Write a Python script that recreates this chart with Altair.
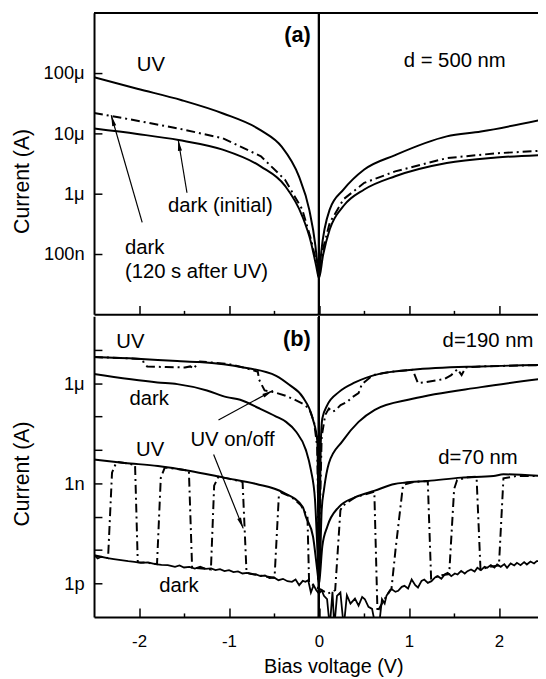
import altair as alt
import pandas as pd

FONT = "Liberation Sans"
X_DOMAIN = [-2.5, 2.434]
X_TICKS = [-2, -1.5, -1, -0.5, 0, 0.5, 1, 1.5, 2]
YA_TICKS = [1e-7, 1e-6, 1e-5, 1e-4]
YB_TICKS = [1e-12, 1e-11, 1e-10, 1e-9, 1e-8, 1e-7, 1e-6, 1e-5]

# ---------------- panel (a): d = 500 nm  (bias V, log10 of current in A)
a_uv_v = [-2.5, -2.02, -1.525, -1.066, -0.645, -0.415, -0.224, -0.109, -0.04, -0.013, 0.0,
          0.025, 0.12, 0.274, 0.503, 0.847, 1.42, 1.80, 2.45]
a_uv_e = [-4.07, -4.26, -4.45, -4.67, -4.95, -5.22, -5.71, -6.26, -6.86, -7.24, -7.38,
          -6.97, -6.26, -5.93, -5.60, -5.36, -5.05, -4.97, -4.78]
a_dark_v = [-2.5, -2.02, -1.56, -1.07, -0.645, -0.377, -0.186, -0.09, -0.032, 0.0,
            0.045, 0.12, 0.274, 0.503, 0.847, 1.42, 1.97, 2.45]
a_dark_e = [-4.92, -5.01, -5.11, -5.27, -5.55, -5.87, -6.37, -6.80, -7.19, -7.40,
            -7.02, -6.59, -6.20, -5.93, -5.71, -5.49, -5.40, -5.36]
a_d120_v = [-2.5, -2.02, -1.56, -1.07, -0.645, -0.377, -0.186, -0.09, -0.03, 0.0,
            0.045, 0.12, 0.274, 0.503, 0.847, 1.42, 1.97, 2.45]
a_d120_e = [-4.66, -4.79, -4.92, -5.08, -5.38, -5.77, -6.26, -6.75, -7.13, -7.38,
            -6.91, -6.48, -6.09, -5.82, -5.63, -5.41, -5.33, -5.29]

a_text = ["UV", "d = 500 nm", "dark (initial)", "dark", "(120 s after UV)"]
a_text_v = [-2.024, 0.942, -1.678, -2.157, -2.157]
a_text_e = [-3.962, -3.907, -6.30, -6.995, -7.405]
a_tag, a_tag_v, a_tag_e = ["(a)"], [-0.091], [-3.49]

a_arr_v0, a_arr_e0 = [-1.965, -1.467], [-6.475, -5.984]
a_arr_v1, a_arr_e1 = [-2.309, -1.564], [-4.70, -5.110]
a_arr_ang = [344, 351]

# ---------------- panel (b): d = 190 nm and d = 70 nm
b_uv190_v = [-2.5, -2.02, -1.575, -1.333, -0.84, -0.476, -0.33, -0.18, -0.07, -0.018, -0.004, 0.0,
             0.004, 0.02, 0.037, 0.092, 0.22, 0.40, 0.66, 1.04, 1.80, 2.45]
b_uv190_e = [-5.22, -5.27, -5.34, -5.37, -5.53, -5.78, -6.05, -6.42, -7.06, -7.75, -10.8, -11.9,
             -10.8, -7.8, -7.06, -6.66, -6.27, -5.98, -5.73, -5.60, -5.50, -5.46]
b_dark190_v = [-2.5, -1.795, -1.575, -1.245, -1.025, -0.876, -0.66, -0.476, -0.366, -0.256, -0.146,
               -0.09, -0.044, -0.012, 0.0, 0.012, 0.03, 0.055, 0.11, 0.257, 0.44, 0.62, 1.04, 1.80, 2.45]
b_dark190_e = [-5.73, -5.98, -6.03, -6.22, -6.42, -6.50, -6.76, -7.0, -7.16, -7.45, -8.0,
               -8.6, -9.5, -11.3, -11.9, -11.3, -9.8, -9.2, -8.4, -7.75, -7.16, -6.8, -6.47, -6.12, -5.88]
b_uv70_v = [-2.5, -2.16, -1.79, -1.43, -1.06, -0.696, -0.40, -0.18, -0.146, -0.066, -0.029, -0.006, 0.0,
            0.006, 0.037, 0.092, 0.22, 0.40, 0.62, 0.84, 0.95, 1.21, 1.58, 1.94, 2.05, 2.45]
b_uv70_e = [-8.29, -8.39, -8.48, -8.63, -8.83, -9.02, -9.27, -9.71, -10.0, -10.6, -11.38, -11.9, -12.0,
            -11.9, -10.89, -10.30, -9.71, -9.42, -9.22, -9.02, -8.98, -8.93, -8.83, -8.78, -8.73, -8.78]
b_dark70_v = [-2.5, -2.46, -2.42, -2.35, -2.28, -2.2, -2.12, -2.05, -1.98, -1.9, -1.82, -1.75, -1.68,
              -1.6, -1.55, -1.5, -1.44, -1.38, -1.32, -1.26, -1.2, -1.15, -1.1, -1.05, -1.0, -0.95,
              -0.9, -0.85, -0.8, -0.75, -0.7, -0.65, -0.6, -0.55, -0.5, -0.45, -0.4, -0.35, -0.3,
              -0.26, -0.22, -0.18, -0.15, -0.12, -0.09, -0.06, -0.03, 0.0, 0.03, 0.055, 0.09, 0.12,
              0.15, 0.17, 0.2, 0.238, 0.275, 0.31, 0.35, 0.4, 0.44, 0.48, 0.51, 0.55, 0.59, 0.63,
              0.67, 0.7, 0.73, 0.75, 0.79, 0.81, 0.85, 0.88, 0.92, 0.95, 0.99, 1.03, 1.07, 1.1,
              1.14, 1.17, 1.21, 1.25, 1.29, 1.32, 1.36, 1.4, 1.43, 1.47, 1.51, 1.54, 1.58, 1.62,
              1.65, 1.69, 1.73, 1.76, 1.8, 1.84, 1.87, 1.91, 1.95, 1.98, 2.02, 2.06, 2.09, 2.13,
              2.17, 2.2, 2.24, 2.28, 2.31, 2.35, 2.39, 2.42, 2.45]
b_dark70_e = [-11.14, -11.25, -11.2, -11.24, -11.27, -11.3, -11.33, -11.35, -11.38, -11.37, -11.42,
              -11.44, -11.45, -11.5, -11.46, -11.52, -11.5, -11.55, -11.5, -11.56, -11.55, -11.6,
              -11.57, -11.63, -11.6, -11.66, -11.64, -11.7, -11.68, -11.72, -11.73, -11.78, -11.76,
              -11.84, -11.82, -11.9, -11.86, -11.93, -11.95, -11.88, -12.05, -11.92, -11.95, -11.9,
              -12.27, -12.05, -12.2, -12.3, -12.2, -12.37, -12.47, -13.3, -12.25, -13.3, -12.37,
              -12.27, -13.3, -12.35, -12.6, -12.45, -12.66, -12.4, -12.47, -12.7, -12.76, -13.3,
              -13.2, -12.47, -12.6, -12.37, -12.2, -12.17, -12.25, -12.22, -12.1, -12.07, -12.15,
              -11.88, -12.05, -12.12, -11.92, -11.88, -11.98, -11.93, -11.82, -11.78, -11.86, -11.72,
              -11.68, -11.78, -11.7, -11.73, -11.62, -11.7, -11.63, -11.58, -11.64, -11.53, -11.6,
              -11.5, -11.53, -11.45, -11.52, -11.43, -11.5, -11.42, -11.53, -11.4, -11.46, -11.38,
              -11.45, -11.36, -11.43, -11.34, -11.4, -11.33, -11.33]

# UV on/off sweeps (dash-dot)
b_dd190_v = [-2.5, -2.2, -1.96, -1.948, -1.91, -1.7, -1.49, -1.43, -1.39, -1.35, -1.325, -1.0, -0.8,
             -0.68, -0.665, -0.604, -0.5, -0.38, -0.29, -0.18, -0.11, -0.055, -0.02, -0.005, 0.005,
             0.03, 0.07, 0.11, 0.147, 0.18, 0.24, 0.31, 0.37, 0.44, 0.477, 0.6, 0.8, 1.04, 1.06,
             1.10, 1.17, 1.39, 1.47, 1.54, 1.585, 1.63, 1.8, 2.45]
b_dd190_e = [-5.22, -5.25, -5.28, -5.39, -5.50, -5.52, -5.53, -5.50, -5.57, -5.40, -5.35, -5.43, -5.56,
             -5.66, -5.9, -6.22, -6.27, -6.37, -6.47, -6.62, -6.76, -7.16, -7.9, -10.5, -10.5,
             -7.6, -6.95, -6.76, -6.86, -6.82, -6.66, -6.57, -6.42, -6.30, -6.03, -5.76, -5.66, -5.60, -5.73,
             -6.0, -5.98, -5.88, -5.76, -5.58, -5.76, -5.53, -5.50, -5.46]
b_dd70_v = [-2.5, -2.42, -2.344, -2.30, -2.25, -2.16, -2.044, -2.014, -1.9, -1.80, -1.758, -1.714,
            -1.6, -1.446, -1.41, -1.3, -1.201, -1.165, -1.117, -1.0, -0.849, -0.805, -0.65, -0.494,
            -0.446, -0.42, -0.3, -0.2, -0.128, -0.11, 0.0, 0.10, 0.18, 0.238, 0.26, 0.40, 0.615,
            0.65, 0.72, 0.806, 0.85, 0.934, 1.05, 1.209, 1.246, 1.35, 1.447, 1.502, 1.535, 1.65,
            1.751, 1.795, 1.9, 2.0, 2.05, 2.2, 2.45]
b_dd70_e = [-11.15, -11.2, -11.24, -8.68, -8.36, -8.39, -8.45, -11.36, -11.38, -11.42, -8.83, -8.53,
            -8.56, -8.62, -11.52, -11.55, -11.58, -9.07, -8.80, -8.86, -8.96, -11.68, -11.76, -11.83,
            -9.37, -9.28, -9.42, -9.66, -10.0, -11.97, -12.15, -12.3, -12.2, -9.81, -9.68, -9.42, -9.25,
            -12.85, -12.5, -12.15, -11.0, -9.05, -8.96, -8.93, -11.85, -11.76, -11.72, -9.17, -8.9, -8.82,
            -8.8, -11.58, -11.5, -11.46, -8.85, -8.78, -8.78]

b_text = ["UV", "d=190 nm", "dark", "UV on/off", "UV", "d=70 nm", "dark"]
b_text_v = [-2.253, 1.374, -2.105, -1.428, -2.033, 1.326, -1.776]
b_text_e = [-4.944, -4.914, -6.664, -7.879, -8.189, -8.434, -12.269]
b_tag, b_tag_v, b_tag_e = ["(b)"], [-0.091], [-4.885]

b_arr_v0, b_arr_e0 = [-1.117, -1.171], [-7.106, -8.139]
b_arr_v1, b_arr_e1 = [-0.512, -0.842], [-6.221, -10.35]
b_arr_ang = [61, 158]


def curve(vs, es, name):
    return pd.DataFrame({"V": vs, "I": [10.0 ** e for e in es], "s": name})


def texts(t, vs, es):
    return pd.DataFrame({"t": t, "V": vs, "I": [10.0 ** e for e in es]})


def arrows(v0, e0, v1, e1, ang):
    return pd.DataFrame({"V0": v0, "I0": [10.0 ** e for e in e0],
                         "V1": v1, "I1": [10.0 ** e for e in e1], "ang": ang})


xscale = alt.Scale(domain=X_DOMAIN, nice=False, zero=False)
ya_scale = alt.Scale(type="log", domain=[1e-8, 1e-3], nice=False)
yb_scale = alt.Scale(type="log", domain=[1e-13, 1e-4], nice=False)

XTICK_SIZE = {"expr": "abs(datum.value % 1) > 0.25 ? -4 : -9"}
common_axis = dict(grid=False, domainColor="black", domainWidth=2, tickColor="black",
                   tickWidth=1.5, labelFont=FONT, titleFont=FONT, labelColor="black",
                   titleColor="black", titleFontWeight="normal")

xa_axis = alt.Axis(values=X_TICKS, labels=False, title=None, tickSize=XTICK_SIZE, **common_axis)
xb_axis = alt.Axis(values=X_TICKS, tickSize=XTICK_SIZE, labelFlush=False,
                   labelExpr="abs(datum.value % 1) > 0.25 ? '' : (datum.value < 0 ? '-' + abs(datum.value) : '' + datum.value)",
                   labelFontSize=17, labelPadding=26, title="Bias voltage (V)",
                   titleFontSize=20, titleX=242, titleY=56, titleBaseline="alphabetic",
                   titleAlign="center", **common_axis)

LOGE = "round(log(datum.value) / LN10)"
ya_axis = alt.Axis(values=YA_TICKS, tickSize={"expr": "-8"}, labelPadding=18, labelFontSize=18.5,
                   labelExpr=f"{LOGE} == -7 ? '100n' : {LOGE} == -6 ? '1μ' : {LOGE} == -5 ? '10μ' : {LOGE} == -4 ? '100μ' : ''",
                   title="Current (A)", titleFontSize=21.5, titleAngle=270, titleX=-61, titleY=170,
                   titleAlign="center", titleBaseline="bottom", **common_axis)
yb_axis = alt.Axis(values=YB_TICKS, tickSize={"expr": "-8"}, labelPadding=18, labelFontSize=18.5,
                   labelExpr=f"{LOGE} == -6 ? '1μ' : {LOGE} == -9 ? '1n' : {LOGE} == -12 ? '1p' : ''",
                   title="Current (A)", titleFontSize=21.5, titleAngle=270, titleX=-61, titleY=159,
                   titleAlign="center", titleBaseline="bottom", **common_axis)

DASHDOT = [9, 4, 2, 4]
HEAD = "M0,0L0.3,1.6L-0.3,1.6Z"
PLOT_W = 449


def panel(xaxis, yscale, yaxis, solid_smooth, solid_noisy, dashdot, txt, tag, arr, top_value, height):
    X = alt.X("V:Q", scale=xscale, axis=xaxis)
    Y = alt.Y("I:Q", scale=yscale, axis=yaxis)
    layers = []
    layers.append(alt.Chart(solid_smooth).mark_line(color="black", strokeWidth=2, interpolate="monotone", clip=True)
                  .encode(x=X, y=Y, detail="s:N"))
    if solid_noisy is not None:
        layers.append(alt.Chart(solid_noisy).mark_line(color="black", strokeWidth=1.8, clip=True)
                      .encode(x=X, y=Y, detail="s:N"))
    layers.append(alt.Chart(dashdot).mark_line(color="black", strokeWidth=2, strokeDash=DASHDOT, clip=True)
                  .encode(x=X, y=Y, detail="s:N"))
    layers.append(alt.Chart(solid_smooth).mark_rule(color="black", strokeWidth=2)
                  .encode(x=alt.datum(0)))
    if top_value is not None:
        layers.append(alt.Chart(solid_smooth).mark_rule(color="black", strokeWidth=2, clip=True)
                      .encode(y=alt.datum(top_value, scale=yscale)))
    layers.append(alt.Chart(txt).mark_text(align="left", baseline="alphabetic", font=FONT, fontSize=20.5, color="black")
                  .encode(x=X, y=Y, text="t:N"))
    layers.append(alt.Chart(tag).mark_text(align="right", baseline="alphabetic", font=FONT, fontSize=22,
                                           fontWeight="bold", color="black")
                  .encode(x=X, y=Y, text="t:N"))
    layers.append(alt.Chart(arr).mark_rule(color="black", strokeWidth=1.2)
                  .encode(x=alt.X("V0:Q", scale=xscale, axis=xaxis), y=alt.Y("I0:Q", scale=yscale, axis=yaxis),
                          x2="V1:Q", y2="I1:Q"))
    layers.append(alt.Chart(arr).mark_point(shape=HEAD, filled=True, size=190, color="black", opacity=1, strokeWidth=0)
                  .encode(x=alt.X("V1:Q", scale=xscale, axis=xaxis), y=alt.Y("I1:Q", scale=yscale, axis=yaxis),
                          angle=alt.Angle("ang:Q", scale=None)))
    return alt.layer(*layers).properties(width=PLOT_W, height=height)


a_solid = pd.concat([curve(a_uv_v, a_uv_e, "uv"), curve(a_dark_v, a_dark_e, "dark")])
a_dd = curve(a_d120_v, a_d120_e, "dark120")
panel_a = panel(xa_axis, ya_scale, ya_axis, a_solid, None, a_dd,
                texts(a_text, a_text_v, a_text_e), texts(a_tag, a_tag_v, a_tag_e),
                arrows(a_arr_v0, a_arr_e0, a_arr_v1, a_arr_e1, a_arr_ang), 1e-3, 305)

b_solid = pd.concat([curve(b_uv190_v, b_uv190_e, "uv190"), curve(b_dark190_v, b_dark190_e, "dark190"),
                     curve(b_uv70_v, b_uv70_e, "uv70")])
b_noisy = curve(b_dark70_v, b_dark70_e, "dark70")
b_dd = pd.concat([curve(b_dd190_v, b_dd190_e, "dd190"), curve(b_dd70_v, b_dd70_e, "dd70")])
panel_b = panel(xb_axis, yb_scale, yb_axis, b_solid, b_noisy, b_dd,
                texts(b_text, b_text_v, b_text_e), texts(b_tag, b_tag_v, b_tag_e),
                arrows(b_arr_v0, b_arr_e0, b_arr_v1, b_arr_e1, b_arr_ang), None, 304)

chart = (alt.vconcat(panel_a, panel_b, spacing=0)
         .properties(padding={"left": 4, "top": 0, "right": 0, "bottom": 0}, background="white")
         .configure_view(stroke=None))

chart.save("out.html", embed_options={"renderer": "svg", "actions": False})
